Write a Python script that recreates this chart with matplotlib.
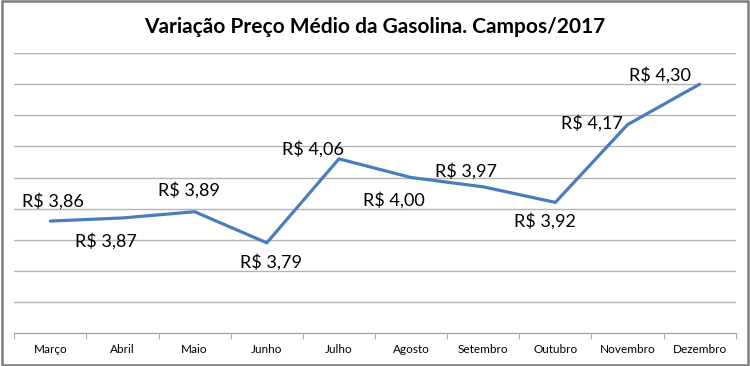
import numpy as np
import matplotlib.pyplot as plt
from matplotlib.patches import Rectangle

months = ["Março", "Abril", "Maio", "Junho", "Julho", "Agosto",
          "Setembro", "Outubro", "Novembro", "Dezembro"]
prices = [3.86, 3.87, 3.89, 3.79, 4.06, 4.00, 3.97, 3.92, 4.17, 4.30]
labels = ["R$ 3,86", "R$ 3,87", "R$ 3,89", "R$ 3,79", "R$ 4,06",
          "R$ 4,00", "R$ 3,97", "R$ 3,92", "R$ 4,17", "R$ 4,30"]
# label offsets in pixels (dx, dy), as placed in the original chart
offsets = [(3, 20), (-17, -23), (-6, 22), (4, -19), (-26, 10),
           (-17, -23), (-17, 16), (-10, -19), (-36, 1), (-40, 9)]


def main():
    plt.rcParams['font.family'] = ['Lato', 'DejaVu Sans']
    fig = plt.figure(figsize=(7.5, 3.66), dpi=100)
    ax = fig.add_axes([0.019, 0.090, 0.962, 0.765])

    x = np.arange(len(months))
    ax.plot(x, prices, color="#4a7ebb", lw=2.3, solid_capstyle="round",
            solid_joinstyle="round", zorder=3)

    for xi, yi, lab, (dx, dy) in zip(x, prices, labels, offsets):
        ax.annotate(lab, (xi, yi), xytext=(dx * 0.72, dy * 0.72),
                    textcoords="offset points", ha="center", va="center",
                    fontsize=13, color="#000000")

    ax.set_xlim(-0.5, len(months) - 0.5)
    ax.set_ylim(3.5, 4.4)
    ax.set_yticks(np.arange(3.6, 4.41, 0.1))
    ax.yaxis.grid(True, color="#b3b3b3", lw=1)
    ax.tick_params(axis="y", left=False, labelleft=False)

    ax.set_xticks(x)
    ax.set_xticklabels(months, fontsize=8.5)
    ax.set_xticks(np.arange(-0.5, len(months)), minor=True)
    ax.tick_params(axis="x", which="major", length=0, pad=8)
    ax.tick_params(axis="x", which="minor", length=4, color="#999999")

    for s in ["top", "right", "left"]:
        ax.spines[s].set_visible(False)
    ax.spines["bottom"].set_color("#999999")
    ax.set_axisbelow(True)

    fig.text(0.5, 0.926, "Variação Preço Médio da Gasolina. Campos/2017",
             ha="center", va="center", fontsize=15, fontweight="bold")

    fig.patches.append(Rectangle((0.002, 0.003), 0.995, 0.993,
                                 transform=fig.transFigure, fill=False,
                                 edgecolor="#7f7f7f", lw=1.8))

    fig.savefig("out.png", dpi=100)


if __name__ == "__main__":
    main()
